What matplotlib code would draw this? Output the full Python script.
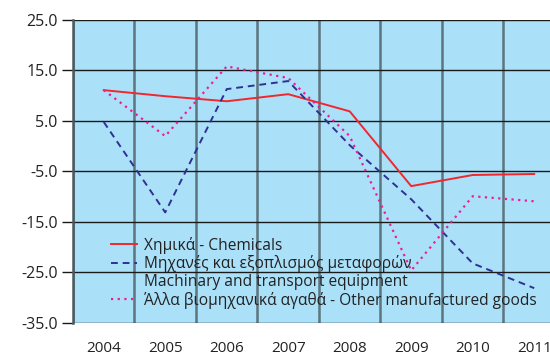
import numpy as np
import matplotlib.pyplot as plt
from matplotlib.lines import Line2D
from matplotlib.ticker import FixedLocator, FormatStrFormatter

plt.rcParams['font.family'] = ['Open Sans', 'DejaVu Sans']

years = ['2004', '2005', '2006', '2007', '2008', '2009', '2010', '2011']
chemicals = [11.1, 9.9, 8.9, 10.3, 6.9, -7.9, -5.7, -5.5]
machinery = [4.8, -13.1, 11.3, 12.9, 0.2, -10.5, -23.2, -28.1]
other_goods = [11.1, 2.0, 15.8, 13.5, 2.0, -24.6, -9.9, -10.9]

labels = ['Χημικά - Chemicals',
          'Μηχανές και εξοπλισμός μεταφορών',
          'Machinary and transport equipment',
          'Άλλα βιομηχανικά αγαθά - Other manufactured goods']

fig = plt.figure(figsize=(5.5, 3.57), dpi=100)
# plot area runs past the right edge of the figure
ax = fig.add_axes([0.1327, 0.0952, 0.8945, 0.849])
ax.set_facecolor('#abe0f9')

x = np.arange(len(years))
l1, = ax.plot(x, chemicals, color='#f0282d', lw=1.4)
l2, = ax.plot(x, machinery, color='#2e3192', lw=1.4, ls=(0, (3.5, 2.5)))
l3, = ax.plot(x, other_goods, color='#ec1c9a', lw=1.6, ls=(0, (1, 2)))
blank = Line2D([], [], color='none')

ax.set_xlim(-0.5, len(years) - 0.5)
ax.set_ylim(-35, 25)
ax.set_yticks(np.arange(-35, 26, 10))
ax.yaxis.set_major_formatter(FormatStrFormatter('%.1f'))
ax.set_xticks(x)
ax.set_xticklabels(years)
ax.xaxis.set_minor_locator(FixedLocator(np.arange(-0.5, len(years), 1)))

ax.grid(axis='y', which='major', color='#1a1a1a', lw=1.0)
ax.grid(axis='x', which='minor', color='#4a5a60', lw=1.8, alpha=0.8)
ax.set_axisbelow(True)

for s in ['top', 'right', 'bottom']:
    ax.spines[s].set_visible(False)
ax.spines['left'].set_color('#4a5a60')
ax.spines['left'].set_linewidth(1.8)

ax.tick_params(axis='y', length=8, width=1.0, color='#1a1a1a', pad=3, labelsize=11.5, labelcolor='#222222')
ax.tick_params(axis='x', which='both', length=0, pad=13, labelsize=11, labelcolor='#222222')

leg = ax.legend([l1, l2, blank, l3], labels, loc='upper left',
                bbox_to_anchor=(0.055, 0.32), frameon=False,
                fontsize=11.2, handlelength=1.7, handletextpad=0.4,
                labelspacing=0.1, borderpad=0.2, labelcolor='#222222')

fig.savefig('out.png', dpi=100)
